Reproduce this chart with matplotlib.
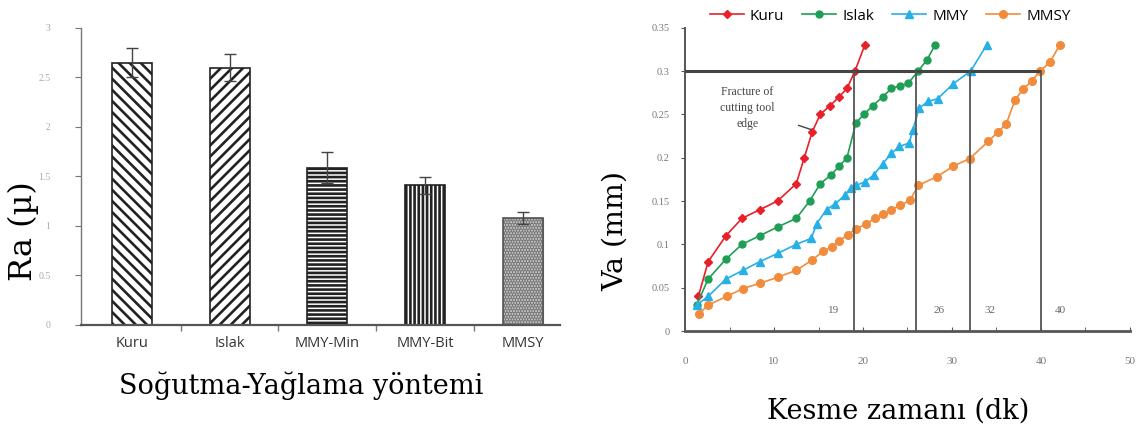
import matplotlib
matplotlib.use("Agg")
import matplotlib.pyplot as plt
import numpy as np

plt.rcParams.update({"font.family": "DejaVu Sans", "hatch.linewidth": 1.9})

# ---- left panel: surface roughness per cooling/lubrication method ----
methods = ["Kuru", "Islak", "MMY-Min", "MMY-Bit", "MMSY"]
ra_mean = [2.65, 2.60, 1.59, 1.41, 1.08]
ra_err = [0.15, 0.14, 0.16, 0.085, 0.064]
ra_ticks = [0, 0.5, 1, 1.5, 2, 2.5, 3]
hatches = ["\\\\\\", "///", "----", "||||", "......"]

# ---- right panel: flank wear vs cutting time ----
t_kuru = [1.5, 2.6, 4.6, 6.4, 8.4, 10.4, 12.5, 13.4, 14.3, 15.2, 16.3, 17.3, 18.2, 19.1, 20.2]
va_kuru = [0.04, 0.08, 0.11, 0.13, 0.14, 0.15, 0.17, 0.20, 0.23, 0.25, 0.26, 0.27, 0.28, 0.30, 0.33]
t_islak = [1.3, 2.6, 4.6, 6.4, 8.4, 10.4, 12.5, 14.0, 15.2, 16.4, 17.3, 18.2, 19.2, 20.1, 21.1,
           22.2, 23.2, 24.2, 25.1, 26.2, 27.2, 28.1]
va_islak = [0.03, 0.06, 0.083, 0.10, 0.11, 0.12, 0.13, 0.15, 0.17, 0.18, 0.19, 0.20, 0.24, 0.25, 0.26,
            0.27, 0.28, 0.283, 0.286, 0.30, 0.313, 0.33]
t_mmy = [1.3, 2.6, 4.6, 6.5, 8.4, 10.5, 12.5, 14.2, 14.8, 15.9, 16.9, 18.0, 18.6, 19.2, 20.2, 21.2,
         22.2, 23.2, 24.1, 25.2, 25.6, 26.3, 27.3, 28.4, 30.1, 32.1, 33.9]
va_mmy = [0.03, 0.04, 0.06, 0.07, 0.08, 0.09, 0.10, 0.107, 0.124, 0.14, 0.147, 0.157, 0.165, 0.168,
          0.172, 0.18, 0.193, 0.205, 0.213, 0.217, 0.232, 0.257, 0.265, 0.268, 0.285, 0.30, 0.33]
t_mmsy = [1.6, 2.6, 4.7, 6.5, 8.4, 10.4, 12.5, 14.3, 15.5, 16.5, 17.3, 18.3, 19.2, 20.3, 21.3, 22.3,
          23.2, 24.2, 25.3, 26.2, 28.3, 30.1, 32.0, 34.1, 35.2, 36.1, 37.1, 38.0, 39.0, 39.9, 41.0, 42.1]
va_mmsy = [0.02, 0.03, 0.04, 0.049, 0.055, 0.062, 0.07, 0.082, 0.092, 0.097, 0.104, 0.111, 0.118,
           0.123, 0.13, 0.135, 0.14, 0.145, 0.151, 0.168, 0.178, 0.19, 0.199, 0.219, 0.23, 0.239,
           0.267, 0.279, 0.289, 0.30, 0.31, 0.33]
tool_life = [19, 26, 32, 40]
life_label_dx = [-2.3, 2.6, 2.3, 2.2]
va_limit = 0.3

SERIF_BIG = "DejaVu Serif"
TIMES = "Liberation Serif"

fig = plt.figure(figsize=(11.37, 4.24), dpi=100)

# left bar chart
ax1 = fig.add_axes([0.0712, 0.2335, 0.4213, 0.7005])
x = np.arange(len(methods))
for i in range(len(methods)):
    if methods[i] == "MMSY":
        ax1.bar(x[i], ra_mean[i], 0.41, color="#cfcfcf", edgecolor="#777777", hatch=hatches[i], lw=0.8)
        ax1.bar(x[i], ra_mean[i], 0.41, fill=False, edgecolor="#555555", lw=1.2)
    else:
        ax1.bar(x[i], ra_mean[i], 0.41, color="white", edgecolor="#222222", hatch=hatches[i], lw=1.2)
ax1.errorbar(x, ra_mean, yerr=ra_err, fmt="none", ecolor="#444444", elinewidth=1.0, capsize=4, capthick=1.0)
ax1.set_xlim(-0.52, 4.38)
ax1.set_ylim(0, 3)
ax1.set_yticks(ra_ticks)
ax1.set_yticklabels([f"{v:g}" for v in ra_ticks], family=TIMES, fontsize=7, color="#aaaaaa")
ax1.tick_params(axis="y", length=4, width=0.8, color="#777777", pad=18)
ax1.set_xticks(x)
ax1.set_xticklabels(methods, fontsize=10.5, color="#333333", family="Open Sans")
ax1.tick_params(axis="x", length=0, pad=8)
ax1.set_xticks(x[:-1] + 0.5, minor=True)
ax1.tick_params(axis="x", which="minor", length=4, width=1, color="#777777")
for s in ["top", "right"]:
    ax1.spines[s].set_visible(False)
ax1.spines["bottom"].set_color("#555555")
ax1.spines["bottom"].set_linewidth(1.6)
ax1.spines["left"].set_color("#777777")
ax1.spines["left"].set_linewidth(1.0)
fig.text(0.021, 0.455, "Ra (\u00b5)", rotation=90, ha="center", va="center", family=SERIF_BIG, fontsize=23)
fig.text(0.265, 0.09, "So\u011futma-Ya\u011flama y\u00f6ntemi", ha="center", va="center",
         family=SERIF_BIG, fontsize=19.5)

# right line chart
ax2 = fig.add_axes([0.6025, 0.2193, 0.3913, 0.7154])
series = [
    ("Kuru", t_kuru, va_kuru, "#e8202a", "D", 4.5),
    ("Islak", t_islak, va_islak, "#1f9e55", "o", 5),
    ("MMY", t_mmy, va_mmy, "#27b0e6", "^", 5.5),
    ("MMSY", t_mmsy, va_mmsy, "#f28c3c", "o", 5.5),
]
for lab, t, v, c, m, ms in series:
    ax2.plot(t, v, color=c, marker=m, ms=ms, lw=1.2, label=lab, zorder=2)
ax2.hlines(va_limit, 0, max(tool_life), color="#444444", lw=2.2, zorder=3)
ax2.vlines(tool_life, 0, va_limit, color="#555555", lw=1.3, zorder=3)
for tl, dx in zip(tool_life, life_label_dx):
    ax2.text(tl + dx, 0.024, str(tl), ha="center", va="center", family=TIMES, fontsize=8, color="#666666")
ax2.annotate("Fracture of\ncutting tool\nedge", xy=(14.3, 0.232), xytext=(7.0, 0.257),
             ha="center", va="center", family=TIMES, fontsize=8.5, color="#444444", linespacing=1.45,
             arrowprops=dict(arrowstyle="-", color="#444444", lw=1.0, shrinkA=16, shrinkB=1))
ax2.set_xlim(0, 50)
ax2.set_ylim(0, 0.35)
ax2.set_xticks(np.arange(0, 51, 10))
ax2.set_xticks(np.arange(0, 51, 5), minor=True)
ax2.set_xticklabels([str(v) for v in range(0, 51, 10)], family=TIMES, fontsize=8, color="#777777")
ax2.tick_params(axis="x", which="both", direction="in", length=3, color="#555555", pad=19)
ax2.set_yticks(np.arange(0, 0.351, 0.05))
ax2.set_yticklabels(["0", "0.05", "0.1", "0.15", "0.2", "0.25", "0.3", "0.35"], family=TIMES,
                    fontsize=7.5, color="#777777")
ax2.tick_params(axis="y", direction="out", length=3, color="#555555", pad=8)
for s in ["top", "right"]:
    ax2.spines[s].set_visible(False)
ax2.spines["bottom"].set_color("#555555")
ax2.spines["bottom"].set_linewidth(2.0)
ax2.spines["left"].set_color("#555555")
ax2.spines["left"].set_linewidth(1.4)
fig.text(0.541, 0.455, "Va (mm)", rotation=90, ha="center", va="center", family=SERIF_BIG, fontsize=20.5)
fig.text(0.790, 0.03, "Kesme zaman\u0131 (dk)", ha="center", va="center", family=SERIF_BIG, fontsize=19.5)
fig.legend(loc="center", bbox_to_anchor=(0.783, 0.962), ncol=4, frameon=False,
           prop={"family": "Open Sans", "size": 11}, handlelength=2.2, handletextpad=0.4,
           columnspacing=1.2)

fig.savefig("out.png", dpi=100)
